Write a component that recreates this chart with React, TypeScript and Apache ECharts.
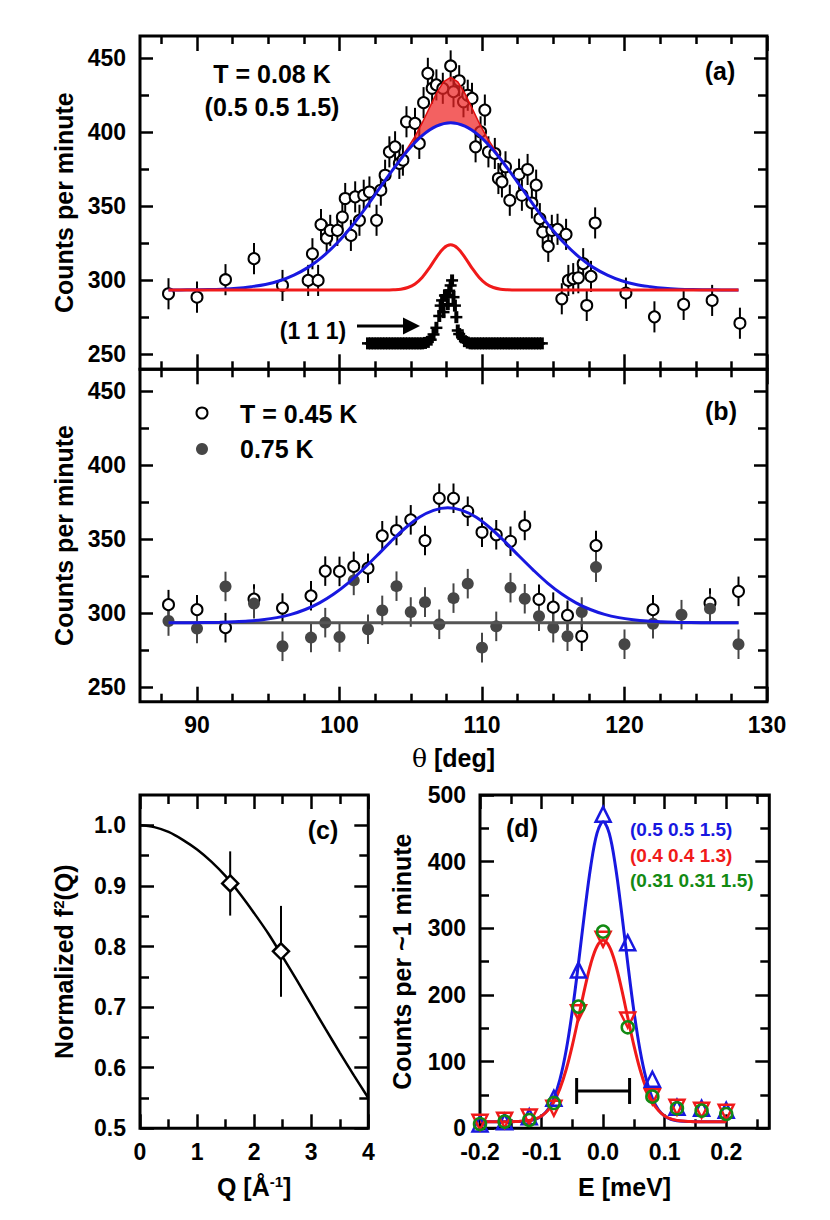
import React, { useEffect, useRef } from "react";
import * as echarts from "echarts";

const FONT = '"Liberation Sans", Arial, Helvetica, sans-serif';
const BLUE = "#1818e0";
const RED = "#f01a1a";
const GREEN = "#138a13";
const DARK = "#464646";

// ---------- tick values ----------
const THETA_MAJOR = [90, 100, 110, 120, 130];
const THETA_MINOR = [87.5, 92.5, 95, 97.5, 102.5, 105, 107.5, 112.5, 115, 117.5, 122.5, 125, 127.5];
const COUNT_MAJOR = [250, 300, 350, 400, 450];
const COUNT_MINOR = [275, 325, 375, 425];
const Q_MAJOR = [0, 1, 2, 3, 4];
const Q_MINOR = [0.5, 1.5, 2.5, 3.5];
const F_MAJOR = [0.5, 0.6, 0.7, 0.8, 0.9, 1.0];
const F_MINOR = [0.55, 0.65, 0.75, 0.85, 0.95];
const E_MAJOR = [-0.2, -0.1, 0, 0.1, 0.2];
const E_MINOR = [-0.15, -0.05, 0.05, 0.15, 0.25];
const CPM_MAJOR = [0, 100, 200, 300, 400, 500];
const CPM_MINOR = [50, 150, 250, 350, 450];

// ---------- panel (a): T = 0.08 K ----------
const A_THETA = [88.0, 90.0, 92.0, 94.0, 96.0, 97.8, 98.1, 98.5, 98.7, 99.1, 99.35, 99.85, 100.2, 100.4, 100.8, 101.1, 101.4, 101.7, 102.1, 102.6, 102.9, 103.2, 103.5, 103.9, 104.2, 104.45, 104.7, 105.3, 105.6, 105.9, 106.2, 106.5, 106.8, 107.25, 107.8, 108.0, 108.4, 108.7, 109.0, 109.3, 109.55, 109.9, 110.2, 110.45, 110.9, 111.15, 111.4, 111.65, 111.95, 112.6, 112.8, 113.2, 113.5, 113.8, 114.06, 114.26, 114.65, 114.9, 115.3, 115.6, 115.9, 116.06, 116.4, 116.76, 117.1, 117.35, 117.65, 117.94, 120.1, 122.1, 124.15, 126.15, 128.1];
const A_COUNTS = [291, 288.7, 300.5, 314.7, 296.6, 300, 318, 300, 337.7, 328.6, 333.8, 333.8, 342.8, 355.3, 330.4, 356.4, 340.6, 357.5, 359.7, 340.6, 360.9, 371, 386.8, 390.2, 379, 381.2, 407.1, 406, 392.5, 420, 439.8, 429.7, 432, 429.7, 444.8, 427.4, 434.8, 420.6, 425, 422.9, 390.2, 400.3, 415, 386.8, 385.7, 368.8, 366.5, 376.7, 354.1, 371.7, 357.5, 374.9, 352.3, 364.3, 341.7, 332.7, 323, 333.8, 334.5, 287.6, 331.1, 300, 301.2, 301.8, 311.3, 283.1, 302.7, 338.8, 291.4, 275.4, 283.8, 286.5, 271.1];
const A_ERR = 10.5;

// (1 1 1) nuclear Bragg peak (resolution), scaled
const X111_THETA = [102, 102.2, 102.4, 102.6, 102.8, 103, 103.2, 103.4, 103.6, 103.8, 104, 104.2, 104.4, 104.6, 104.8, 105, 105.2, 105.4, 105.6, 105.8, 106, 106.2, 106.4, 106.6, 106.8, 107, 107.1, 107.2, 107.3, 107.4, 107.5, 107.6, 107.7, 107.8, 107.9, 108, 108.1, 108.2, 108.3, 108.4, 108.6, 108.8, 109, 109.2, 109.4, 109.6, 109.8, 110, 110.2, 110.4, 110.6, 110.8, 111, 111.2, 111.4, 111.6, 111.8, 112, 112.2, 112.4, 112.6, 112.8, 113, 113.2, 113.4, 113.6, 113.8, 114, 114.2];
const X111_COUNTS = [257.5, 257.5, 257.5, 257.5, 257.5, 257.5, 257.5, 257.5, 257.5, 257.5, 257.5, 257.5, 257.5, 257.5, 257.5, 257.5, 257.5, 257.5, 257.5, 257.5, 257.8, 258.5, 260, 263.5, 268, 276, 283, 286.5, 278.6, 289.8, 290, 284, 293, 296.6, 300, 288.7, 283, 275.2, 266.2, 263.8, 261.6, 259, 258, 257.5, 257.5, 257.5, 257.5, 257.5, 257.5, 257.5, 257.5, 257.5, 257.5, 257.5, 257.5, 257.5, 257.5, 257.5, 257.5, 257.5, 257.5, 257.5, 257.5, 257.5, 257.5, 257.5, 257.5, 257.5, 257.5];

// fit curves
const A_BROAD_FIT = [[88, 293.5], [88.8, 293.6], [89.8, 293.7], [90.8, 293.8], [91.8, 294.1], [92.8, 294.7], [93.8, 295.8], [94.8, 297.3], [95.8, 299.8], [96.8, 303.6], [97.8, 308.8], [98.8, 315.9], [99.8, 324.9], [100.8, 335.9], [101.8, 348.5], [102.8, 362.1], [103.8, 375.5], [104.8, 387.9], [105.8, 397.8], [106.8, 404.2], [107.8, 406.5], [108.8, 404.2], [109.8, 397.8], [110.8, 387.9], [111.8, 375.5], [112.8, 362.1], [113.8, 348.5], [114.8, 335.9], [115.8, 324.9], [116.8, 315.9], [117.8, 308.8], [118.8, 303.6], [119.8, 299.8], [120.8, 297.3], [121.8, 295.8], [122.8, 294.7], [123.8, 294.1], [124.8, 293.8], [125.8, 293.7], [126.8, 293.6], [127.8, 293.5], [128, 293.5]];
const A_NARROW_FIT = [[88, 293.5], [92, 293.5], [96, 293.5], [100, 293.5], [101.8, 293.5], [102.3, 293.5], [102.8, 293.5], [103.3, 293.5], [103.8, 293.7], [104.3, 294.1], [104.8, 295.2], [105.3, 297.6], [105.8, 302.0], [106.3, 308.3], [106.8, 315.6], [107.3, 321.7], [107.8, 324.0], [108.3, 321.7], [108.8, 315.6], [109.3, 308.3], [109.8, 302.0], [110.3, 297.6], [110.8, 295.2], [111.3, 294.1], [111.8, 293.7], [112.3, 293.5], [112.8, 293.5], [113.3, 293.5], [115.5, 293.5], [120, 293.5], [124, 293.5], [128, 293.5]];
const A_FILL_THETA = [103.3, 103.8, 104.3, 104.8, 105.3, 105.8, 106.3, 106.8, 107.3, 107.8, 108.3, 108.8, 109.3, 109.8, 110.3, 110.8, 111.3, 111.8, 112.3];
const A_FILL_BROAD = [368.9, 375.5, 382.0, 387.9, 393.2, 397.8, 401.5, 404.2, 405.9, 406.5, 405.9, 404.2, 401.5, 397.8, 393.2, 387.9, 382.0, 375.5, 368.9];
const A_FILL_NARROW = [0, 0.2, 0.6, 1.7, 4.1, 8.5, 14.8, 22.1, 28.2, 30.5, 28.2, 22.1, 14.8, 8.5, 4.1, 1.7, 0.6, 0.2, 0];

// ---------- panel (b) ----------
const B_THETA_045 = [88, 90, 92, 94, 96, 98, 99, 100, 101, 102, 103, 104, 105, 106, 107, 108, 109, 110, 111, 112, 113, 114, 115, 116, 117, 118, 122, 126, 128];
const B_COUNTS_045 = [305.7, 302.3, 290.1, 309.5, 303.4, 311.7, 328.4, 328.2, 331.6, 330.4, 352.3, 355.9, 363.1, 349.1, 377.7, 377.7, 368.9, 354.7, 353, 348.6, 359.3, 309.3, 304, 298.5, 284.3, 345.7, 302.3, 306.8, 314.7];
const B_THETA_075 = [88, 90, 92, 94, 96, 98, 99, 100, 101, 102, 103, 104, 105, 106, 107, 108, 109, 110, 111, 112, 113, 114, 115, 116, 117, 118, 120, 122, 124, 126, 128];
const B_COUNTS_075 = [294.6, 289.5, 318, 306.4, 277.5, 283.4, 293.5, 283.8, 322.1, 289, 301.8, 318.2, 300.7, 307.4, 292.4, 310.1, 319.9, 276.6, 291, 317.2, 309.7, 297.8, 290.1, 284.3, 300.7, 331.1, 278.9, 292.8, 298.9, 303, 278.9];
const B_ERR = 10;
const B_BROAD_FIT = [[88, 293.5], [88.6, 293.5], [89.6, 293.5], [90.6, 293.6], [91.6, 293.8], [92.6, 294.1], [93.6, 294.6], [94.6, 295.5], [95.6, 296.9], [96.6, 299.1], [97.6, 302.4], [98.6, 306.9], [99.6, 312.9], [100.6, 320.3], [101.6, 329.1], [102.6, 338.6], [103.6, 348.4], [104.6, 357.4], [105.6, 364.8], [106.6, 369.5], [107.6, 371.2], [108.6, 369.5], [109.6, 364.8], [110.6, 357.4], [111.6, 348.4], [112.6, 338.6], [113.6, 329.1], [114.6, 320.3], [115.6, 312.9], [116.6, 306.9], [117.6, 302.4], [118.6, 299.1], [119.6, 296.9], [120.6, 295.5], [121.6, 294.6], [122.6, 294.1], [123.6, 293.8], [124.6, 293.6], [125.6, 293.5], [126.6, 293.5], [127.6, 293.5], [128, 293.5]];
const B_FLAT_FIT = [[88, 293.5], [128, 293.5]];

// ---------- panel (c) ----------
const C_Q = [1.58, 2.47];
const C_F = [0.904, 0.792];
const C_ERR = [0.053, 0.075];
const C_FIT = [[0, 1.0], [0.25, 0.997], [0.5, 0.989], [0.75, 0.976], [1.0, 0.96], [1.25, 0.94], [1.5, 0.916], [1.75, 0.887], [2.0, 0.855], [2.25, 0.821], [2.5, 0.783], [2.75, 0.744], [3.0, 0.704], [3.25, 0.664], [3.5, 0.625], [3.75, 0.587], [4.0, 0.55]];

// ---------- panel (d) ----------
const D_E = [-0.2, -0.16, -0.12, -0.08, -0.04, 0, 0.04, 0.08, 0.12, 0.16, 0.2];
const D_BLUE = [6.5, 10, 17.4, 45, 237.5, 471, 278.4, 73.5, 31.5, 30, 27];
const D_RED = [9, 12, 17, 30, 173.5, 283.5, 162.5, 47.5, 31.5, 27, 24];
const D_GREEN = [6.5, 10, 12.5, 38, 182.5, 295, 151.5, 47.5, 30, 26.5, 21.5];
const D_BLUE_FIT = [[-0.2, 10], [-0.18, 10], [-0.16, 10], [-0.15, 10], [-0.14, 10.2], [-0.13, 10.5], [-0.12, 11.4], [-0.11, 13.6], [-0.1, 18.3], [-0.09, 27.8], [-0.08, 45], [-0.07, 73.7], [-0.06, 117], [-0.05, 176], [-0.04, 247.6], [-0.03, 324.3], [-0.02, 393.5], [-0.01, 442.4], [0, 460], [0.01, 442.4], [0.02, 393.5], [0.03, 324.3], [0.04, 247.6], [0.05, 176], [0.06, 117], [0.07, 73.7], [0.08, 45], [0.09, 27.8], [0.1, 18.3], [0.11, 13.6], [0.12, 11.4], [0.13, 10.5], [0.14, 10.2], [0.15, 10], [0.16, 10], [0.18, 10], [0.2, 10]];
const D_RED_FIT = [[-0.2, 10], [-0.18, 10], [-0.16, 10], [-0.15, 10], [-0.14, 10.3], [-0.13, 10.8], [-0.12, 11.9], [-0.11, 14.1], [-0.1, 18.5], [-0.09, 26.5], [-0.08, 39.6], [-0.07, 59.9], [-0.06, 88.2], [-0.05, 124.5], [-0.04, 166.3], [-0.03, 209.1], [-0.02, 246.9], [-0.01, 272.8], [0, 282], [0.01, 272.8], [0.02, 246.9], [0.03, 209.1], [0.04, 166.3], [0.05, 124.5], [0.06, 88.2], [0.07, 59.9], [0.08, 39.6], [0.09, 26.5], [0.1, 18.5], [0.11, 14.1], [0.12, 11.9], [0.13, 10.8], [0.14, 10.3], [0.15, 10], [0.16, 10], [0.18, 10], [0.2, 10]];
const D_RES = [-0.043, 0.043, 56]; // resolution bar: from, to, level

// ---------- helpers ----------
const TICK_LINE = { color: "#000", width: 2.5 };

function tickAxis(gridIndex: number, position: string, min: number, max: number, ticks: number[], len: number): any {
  return {
    type: "value",
    gridIndex,
    position,
    min,
    max,
    axisLine: { show: false, onZero: false },
    splitLine: { show: false },
    splitArea: { show: false },
    axisTick: { show: true, inside: true, length: len, customValues: ticks, lineStyle: TICK_LINE },
    axisLabel: { show: false },
  };
}

function labelled(axis: any, labels: number[], fmt: (v: number) => string, margin: number): any {
  return {
    ...axis,
    axisLabel: {
      show: true,
      customValues: labels,
      formatter: fmt,
      margin,
      color: "#000",
      fontSize: 23,
      fontWeight: "bold",
      fontFamily: FONT,
    },
  };
}

function named(axis: any, name: string, gap: number, rotate: number, rich?: any): any {
  return {
    ...axis,
    name,
    nameLocation: "middle",
    nameGap: gap,
    nameRotate: rotate,
    nameTextStyle: { color: "#000", fontSize: 25, fontWeight: "bold", fontFamily: FONT, rich },
  };
}

function axisSet(gridIndex: number, sides: [string, string], min: number, max: number, major: number[], minor: number[], majLen: number, minLen: number, first: (a: any) => any): any[] {
  return [
    first(tickAxis(gridIndex, sides[0], min, max, major, majLen)),
    tickAxis(gridIndex, sides[0], min, max, minor, minLen),
    tickAxis(gridIndex, sides[1], min, max, major, majLen),
    tickAxis(gridIndex, sides[1], min, max, minor, minLen),
  ];
}

function errorBars(xi: number, yi: number, xs: number[], ys: number[], err: number | number[], color: string, width = 2): any {
  return {
    type: "custom",
    xAxisIndex: xi,
    yAxisIndex: yi,
    silent: true,
    z: 2,
    data: xs.map((x, i) => [x, ys[i], Array.isArray(err) ? err[i] : err]),
    encode: { x: 0, y: 1 },
    renderItem: (_p: any, api: any) => {
      const x = api.value(0);
      const y = api.value(1);
      const e = api.value(2);
      const a = api.coord([x, y - e]);
      const b = api.coord([x, y + e]);
      return { type: "line", shape: { x1: a[0], y1: a[1], x2: b[0], y2: b[1] }, style: { stroke: color, lineWidth: width } };
    },
  };
}

function points(xi: number, yi: number, xs: number[], ys: number[], symbol: string, size: number, fill: string, stroke: string, bw: number, z = 3, extra: any = {}): any {
  return {
    type: "scatter",
    xAxisIndex: xi,
    yAxisIndex: yi,
    silent: true,
    z,
    symbol,
    symbolSize: size,
    data: xs.map((x, i) => [x, ys[i]]),
    itemStyle: { color: fill, borderColor: stroke, borderWidth: bw, opacity: 1 },
    ...extra,
  };
}

function curve(xi: number, yi: number, pts: number[][], color: string, width: number, z = 5): any {
  return {
    type: "line",
    xAxisIndex: xi,
    yAxisIndex: yi,
    data: pts,
    symbol: "none",
    showSymbol: false,
    smooth: 0.35,
    silent: true,
    z,
    lineStyle: { color, width },
  };
}

function label(text: string, x: number, y: number, size = 25, color = "#000", align = "center"): any {
  return {
    type: "text",
    x,
    y,
    z: 100,
    silent: true,
    style: {
      text,
      font: `bold ${size}px ${FONT}`,
      fill: color,
      align,
      textAlign: align,
      verticalAlign: "middle",
      textVerticalAlign: "middle",
    },
  };
}

const SUP_RICH = { sup: { fontSize: 15, fontWeight: "bold", fontFamily: FONT, color: "#000", verticalAlign: "top" } };

function buildOption(): any {
  const gridBase = { show: true, borderColor: "#000", borderWidth: 3, backgroundColor: "transparent", containLabel: false, outerBoundsMode: "none" };
  const grid = [
    { ...gridBase, left: 140, top: 36, width: 627, height: 333.3 },
    { ...gridBase, left: 140, top: 369.3, width: 627, height: 332.4 },
    { ...gridBase, left: 140, top: 795, width: 228.3, height: 333.3 },
    { ...gridBase, left: 480, top: 795, width: 289.3, height: 333.3 },
  ];

  const xAxis = [
    ...axisSet(0, ["bottom", "top"], 86, 130, THETA_MAJOR, THETA_MINOR, 15, 8, (a) => a),
    ...axisSet(1, ["bottom", "top"], 86, 130, THETA_MAJOR, THETA_MINOR, 15, 8, (a) =>
      named(labelled(a, THETA_MAJOR, (v) => String(v), 12), "{th|θ} [deg]", 44, 0, {
        th: { fontFamily: '"DejaVu Serif", "Liberation Serif", serif', fontWeight: "normal", fontSize: 25, color: "#000" },
      })
    ),
    ...axisSet(2, ["bottom", "top"], 0, 4, Q_MAJOR, Q_MINOR, 14, 9, (a) =>
      named(labelled(a, Q_MAJOR, (v) => String(v), 12), "Q [Å{sup|-1}]", 46, 0, SUP_RICH)
    ),
    ...axisSet(3, ["bottom", "top"], -0.2, 0.27, E_MAJOR, E_MINOR, 14, 9, (a) =>
      named(labelled(a, E_MAJOR, (v) => v.toFixed(1), 12), "E [meV]", 46, 0)
    ),
  ];

  const yAxis = [
    ...axisSet(0, ["left", "right"], 240, 465, COUNT_MAJOR, COUNT_MINOR, 13, 9, (a) =>
      named(labelled(a, COUNT_MAJOR, (v) => String(v), 14), "Counts per minute", 58, 90)
    ),
    ...axisSet(1, ["left", "right"], 240, 465, COUNT_MAJOR, COUNT_MINOR, 13, 9, (a) =>
      named(labelled(a, COUNT_MAJOR, (v) => String(v), 14), "Counts per minute", 58, 90)
    ),
    ...axisSet(2, ["left", "right"], 0.5, 1.05, F_MAJOR, F_MINOR, 14, 9, (a) =>
      named(labelled(a, F_MAJOR, (v) => v.toFixed(1), 14), "Normalized f{sup|2}(Q)", 64, 90, SUP_RICH)
    ),
    ...axisSet(3, ["left", "right"], 0, 500, CPM_MAJOR, CPM_MINOR, 14, 9, (a) =>
      named(labelled(a, CPM_MAJOR, (v) => String(v), 14), "Counts per ~1 minute", 66, 90)
    ),
  ];

  const series: any[] = [
    // ----- (a)
    errorBars(0, 0, A_THETA, A_COUNTS, A_ERR, "#000"),
    points(0, 0, A_THETA, A_COUNTS, "circle", 11, "#fff", "#000", 2),
    {
      type: "custom",
      xAxisIndex: 0,
      yAxisIndex: 0,
      silent: true,
      z: 3,
      data: X111_THETA.map((x, i) => [x, X111_COUNTS[i]]),
      encode: { x: 0, y: 1 },
      renderItem: (_p: any, api: any) => {
        const p = api.coord([api.value(0), api.value(1)]);
        return {
          type: "group",
          children: [
            { type: "line", shape: { x1: p[0] - 6, y1: p[1], x2: p[0] + 6, y2: p[1] }, style: { stroke: "#000", lineWidth: 2.5 } },
            { type: "line", shape: { x1: p[0], y1: p[1] - 6, x2: p[0], y2: p[1] + 6 }, style: { stroke: "#000", lineWidth: 4 } },
          ],
        };
      },
    },
    {
      // shaded difference between the total fit and the broad component
      type: "custom",
      xAxisIndex: 0,
      yAxisIndex: 0,
      silent: true,
      z: 4,
      data: [[A_FILL_THETA[0], A_FILL_BROAD[0]]],
      encode: { x: 0, y: 1 },
      renderItem: (_p: any, api: any) => {
        const top = A_FILL_THETA.map((x, i) => api.coord([x, A_FILL_BROAD[i] + A_FILL_NARROW[i]]));
        const bottom = A_FILL_THETA.map((x, i) => api.coord([x, A_FILL_BROAD[i]])).reverse();
        return {
          type: "group",
          children: [
            { type: "polygon", shape: { points: top.concat(bottom) }, style: { fill: "rgba(238,36,36,0.72)", stroke: "none" } },
            { type: "polyline", shape: { points: top }, style: { stroke: "#e01010", lineWidth: 1.5, fill: "none" } },
          ],
        };
      },
    },
    curve(0, 0, A_BROAD_FIT, BLUE, 3),
    curve(0, 0, A_NARROW_FIT, RED, 3),

    // ----- (b)
    errorBars(4, 4, B_THETA_045, B_COUNTS_045, B_ERR, "#000"),
    errorBars(4, 4, B_THETA_075, B_COUNTS_075, B_ERR, DARK),
    points(4, 4, B_THETA_045, B_COUNTS_045, "circle", 11, "#fff", "#000", 2, 3),
    points(4, 4, B_THETA_075, B_COUNTS_075, "circle", 12, DARK, DARK, 0, 3.5),
    curve(4, 4, B_FLAT_FIT, "#555555", 3, 5),
    curve(4, 4, B_BROAD_FIT, BLUE, 3, 5),

    // ----- (c)
    curve(8, 8, C_FIT, "#000", 2.5, 3),
    errorBars(8, 8, C_Q, C_F, C_ERR, "#000", 2),
    points(8, 8, C_Q, C_F, "diamond", 16, "#fff", "#000", 2.5, 4),

    // ----- (d)
    curve(12, 12, D_BLUE_FIT, BLUE, 3, 3),
    curve(12, 12, D_RED_FIT, RED, 3, 3),
    {
      type: "custom",
      xAxisIndex: 12,
      yAxisIndex: 12,
      silent: true,
      z: 3,
      data: [[D_RES[0], D_RES[1], D_RES[2]]],
      encode: { x: [0, 1], y: 2 },
      renderItem: (_p: any, api: any) => {
        const a = api.coord([api.value(0), api.value(2)]);
        const b = api.coord([api.value(1), api.value(2)]);
        const st = { stroke: "#000", lineWidth: 3 };
        return {
          type: "group",
          children: [
            { type: "line", shape: { x1: a[0], y1: a[1], x2: b[0], y2: b[1] }, style: st },
            { type: "line", shape: { x1: a[0], y1: a[1] - 13, x2: a[0], y2: a[1] + 13 }, style: st },
            { type: "line", shape: { x1: b[0], y1: b[1] - 13, x2: b[0], y2: b[1] + 13 }, style: st },
          ],
        };
      },
    },
    points(12, 12, D_E, D_BLUE, "triangle", 15, "rgba(255,255,255,0)", BLUE, 2.5, 4),
    points(12, 12, D_E, D_RED, "triangle", 15, "rgba(255,255,255,0)", RED, 2.5, 4.1, { symbolRotate: 180 }),
    points(12, 12, D_E, D_GREEN, "circle", 12, "rgba(255,255,255,0)", GREEN, 2.5, 4.2),
  ];

  const graphic = {
    elements: [
      label("T = 0.08 K", 272, 74),
      label("(0.5 0.5 1.5)", 272, 106.5),
      label("(a)", 720, 71),
      label("(1 1 1)", 313, 331, 23),
      { type: "line", z: 100, silent: true, shape: { x1: 357, y1: 326, x2: 406, y2: 326 }, style: { stroke: "#000", lineWidth: 3 } },
      { type: "polygon", z: 100, silent: true, shape: { points: [[403, 317.5], [420, 326], [403, 334.5]] }, style: { fill: "#000" } },
      label("(b)", 721, 411),
      { type: "circle", z: 100, silent: true, shape: { cx: 202, cy: 413, r: 5.5 }, style: { fill: "#fff", stroke: "#000", lineWidth: 2 } },
      label("T = 0.45 K", 240, 414, 25, "#000", "left"),
      { type: "circle", z: 100, silent: true, shape: { cx: 202, cy: 449, r: 6 }, style: { fill: DARK } },
      label("0.75 K", 240, 449, 25, "#000", "left"),
      label("(c)", 323, 830),
      label("(d)", 522, 828),
      label("(0.5 0.5 1.5)", 630, 829, 19, BLUE, "left"),
      label("(0.4 0.4 1.3)", 630, 855, 19, RED, "left"),
      label("(0.31 0.31 1.5)", 630, 880, 19, GREEN, "left"),
    ],
  };

  return {
    animation: false,
    backgroundColor: "#fff",
    textStyle: { fontFamily: FONT },
    grid,
    xAxis,
    yAxis,
    series,
    graphic,
  };
}

export default function App() {
  const ref = useRef<HTMLDivElement | null>(null);
  useEffect(() => {
    if (!ref.current) return;
    const chart = echarts.init(ref.current, null, { renderer: "svg" });
    chart.setOption(buildOption());
    return () => {
      chart.dispose();
    };
  }, []);
  return (
    <div
      ref={ref}
      style={{ position: "absolute", left: 0, top: 0, width: 830, height: 1220, background: "#fff" }}
    />
  );
}
